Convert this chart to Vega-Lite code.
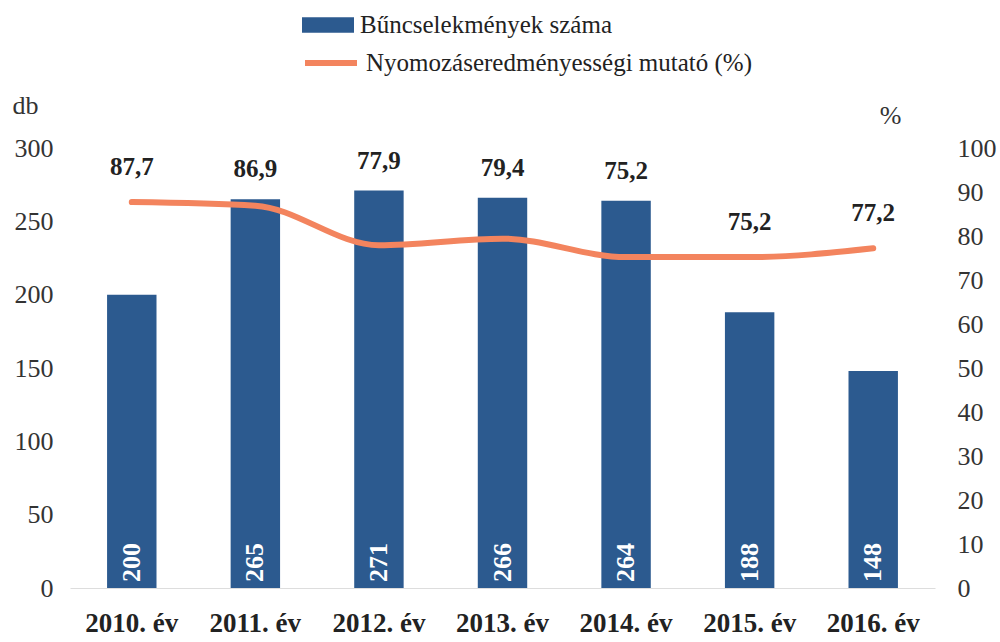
{
  "$schema": "https://vega.github.io/schema/vega-lite/v6.json",
  "width": 865,
  "height": 440,
  "autosize": {"type": "none"},
  "padding": {"left": 70, "top": 148, "right": 65, "bottom": 54},
  "background": "white",
  "config": {
    "locale": {"number": {"decimal": ",", "thousands": " ", "grouping": [3], "currency": ["", ""]}},
    "font": "Liberation Serif, Times New Roman, serif",
    "view": {"stroke": null},
    "axis": {"grid": false, "ticks": false, "labelFont": "Liberation Serif, Times New Roman, serif", "titleFont": "Liberation Serif, Times New Roman, serif", "labelColor": "#333333", "titleColor": "#333333"},
    "legend": {"labelFont": "Liberation Serif, Times New Roman, serif"}
  },
  "data": {
    "values": [
      {"year": "2010. év", "count": 200, "pct": 87.7},
      {"year": "2011. év", "count": 265, "pct": 86.9},
      {"year": "2012. év", "count": 271, "pct": 77.9},
      {"year": "2013. év", "count": 266, "pct": 79.4},
      {"year": "2014. év", "count": 264, "pct": 75.2},
      {"year": "2015. év", "count": 188, "pct": 75.2},
      {"year": "2016. év", "count": 148, "pct": 77.2}
    ]
  },
  "encoding": {
    "x": {
      "field": "year", "type": "nominal", "sort": null,
      "scale": {"paddingInner": 0.6, "paddingOuter": 0.3},
      "axis": {"title": null, "labelAngle": 0, "labelFontSize": 27, "labelFontWeight": "bold", "labelColor": "#222222", "labelPadding": 22, "labelBaseline": "top", "domain": true, "domainColor": "#dddddd", "domainWidth": 1}
    }
  },
  "layer": [
    {
      "layer": [
        {
          "mark": {"type": "bar"},
          "encoding": {
            "y": {
              "field": "count", "type": "quantitative",
              "scale": {"domain": [0, 300], "nice": false},
              "axis": {"orient": "left", "values": [0, 50, 100, 150, 200, 250, 300], "domain": false, "labelFontSize": 26, "labelPadding": 17, "title": "db", "titleAngle": 0, "titleFontSize": 26, "titleFontWeight": "normal", "titleX": -45, "titleY": -43, "titleAlign": "center", "titleBaseline": "middle"}
            },
            "fill": {
              "datum": "Bűncselekmények száma", "type": "nominal",
              "scale": {"domain": ["Bűncselekmények száma"], "range": ["#2c5a8f"]},
              "legend": {"orient": "none", "legendX": 232, "legendY": -149, "title": null, "padding": 0, "symbolType": "M-1,-0.3H1V0.3H-1Z", "symbolSize": 2704, "symbolStrokeWidth": 0, "labelFontSize": 25, "labelColor": "#222222", "labelOffset": 6, "labelLimit": 600}
            }
          }
        },
        {
          "mark": {"type": "text", "color": "white", "fontWeight": "bold", "fontSize": 26, "angle": 270, "align": "left", "baseline": "middle", "dx": 6},
          "encoding": {
            "y": {"datum": 0, "type": "quantitative"},
            "text": {"field": "count", "type": "quantitative"}
          }
        },
        {
          "transform": [{"filter": "datum.count / 3 > datum.pct"}],
          "mark": {"type": "text", "fontWeight": "bold", "fontSize": 25, "baseline": "middle", "align": "center", "dy": -30, "color": "#222222"},
          "encoding": {
            "y": {"field": "count", "type": "quantitative"},
            "text": {"field": "pct", "type": "quantitative", "format": ".1f"}
          }
        }
      ]
    },
    {
      "layer": [
        {
          "mark": {"type": "line", "strokeWidth": 6, "interpolate": "monotone", "strokeCap": "round"},
          "encoding": {
            "y": {
              "field": "pct", "type": "quantitative",
              "scale": {"domain": [0, 100], "nice": false},
              "axis": {"orient": "right", "values": [0, 10, 20, 30, 40, 50, 60, 70, 80, 90, 100], "domain": false, "labelFontSize": 26, "labelPadding": 22, "title": "%", "titleAngle": 0, "titleFontSize": 26, "titleFontWeight": "normal", "titleX": -45, "titleY": -33, "titleAlign": "center", "titleBaseline": "middle"}
            },
            "stroke": {
              "datum": "Nyomozáseredményességi mutató (%)", "type": "nominal",
              "scale": {"domain": ["Nyomozáseredményességi mutató (%)"], "range": ["#f3845e"]},
              "legend": {"orient": "none", "legendX": 232, "legendY": -114, "title": null, "padding": 0, "symbolType": "M-1,0H1", "symbolSize": 2704, "symbolStrokeWidth": 6, "labelFontSize": 25, "labelColor": "#222222", "labelOffset": 6, "labelLimit": 600}
            }
          }
        },
        {
          "transform": [{"filter": "datum.count / 3 <= datum.pct"}],
          "mark": {"type": "text", "fontWeight": "bold", "fontSize": 25, "baseline": "middle", "align": "center", "dy": -35, "color": "#222222"},
          "encoding": {
            "y": {"field": "pct", "type": "quantitative"},
            "text": {"field": "pct", "type": "quantitative", "format": ".1f"}
          }
        }
      ]
    }
  ],
  "resolve": {"scale": {"y": "independent", "fill": "independent", "stroke": "independent"}}
}
